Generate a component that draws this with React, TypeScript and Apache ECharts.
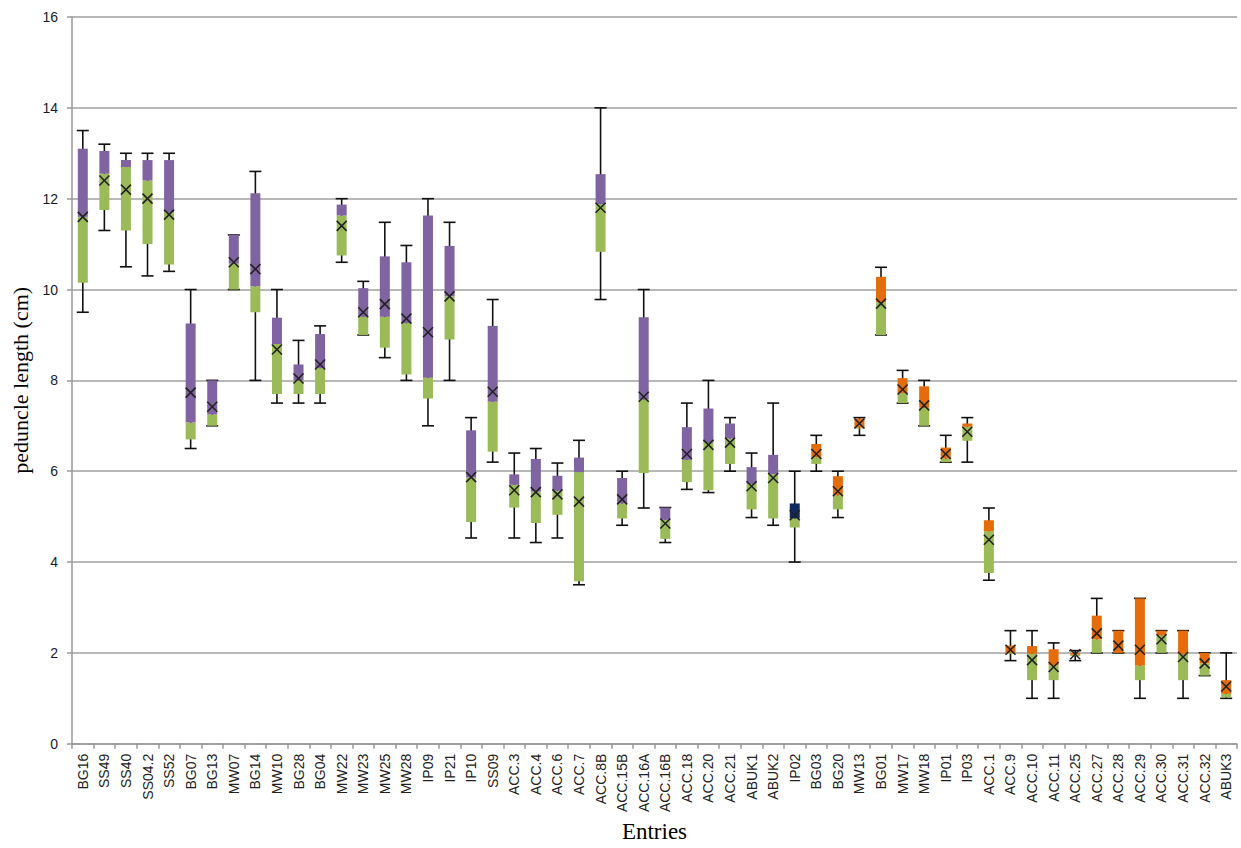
import React, { useEffect, useRef } from "react";
import * as echarts from "echarts";

const entries = ["BG16","SS49","SS40","SS04.2","SS52","BG07","BG13","MW07","BG14","MW10","BG28","BG04","MW22","MW23","MW25","MW28","IP09","IP21","IP10","SS09","ACC.3","ACC.4","ACC.6","ACC.7","ACC.8B","ACC.15B","ACC.16A","ACC.16B","ACC.18","ACC.20","ACC.21","ABUK1","ABUK2","IP02","BG03","BG20","MW13","BG01","MW17","MW18","IP01","IP03","ACC.1","ACC.9","ACC.10","ACC.11","ACC.25","ACC.27","ACC.28","ACC.29","ACC.30","ACC.31","ACC.32","ABUK3"];

const mins =    [9.5,11.3,10.5,10.3,10.4,6.5,7.0,10.0,8.0,7.5,7.5,7.5,10.6,9.0,8.5,8.0,7.0,8.0,4.53,6.2,4.53,4.43,4.53,3.5,9.78,4.81,5.19,4.43,5.6,5.53,6.0,4.98,4.81,4.0,6.0,4.98,6.79,9.0,7.5,7.0,6.2,6.2,3.6,1.83,1.0,1.0,1.83,2.0,2.0,1.0,2.0,1.0,1.5,1.0];
const q1s =     [10.15,11.75,11.3,11.0,10.55,6.7,7.0,10.0,9.5,7.7,7.7,7.7,10.75,9.0,8.72,8.13,7.6,8.9,4.88,6.43,5.2,4.86,5.04,3.58,10.83,4.96,5.96,4.51,5.76,5.58,6.16,5.16,4.96,4.76,6.16,5.16,6.94,9.0,7.5,7.0,6.2,6.67,3.76,1.98,1.4,1.4,1.93,2.0,2.0,1.4,2.0,1.4,1.5,1.02];
const medians = [11.6,12.55,12.7,12.4,11.7,7.07,7.25,10.57,10.07,8.8,8.0,8.27,11.63,9.4,9.4,9.26,8.06,9.85,5.86,7.53,5.7,5.55,5.57,5.98,11.88,5.29,7.58,4.93,6.25,6.63,6.72,5.72,5.94,4.96,6.31,5.47,6.96,9.72,7.72,7.4,6.28,6.98,4.68,2.0,1.98,1.73,1.96,2.3,2.0,1.72,2.39,1.97,1.77,1.1];
const q3s =     [13.1,13.05,12.85,12.85,12.85,9.25,8.0,11.2,12.12,9.38,8.35,9.02,11.87,10.03,10.73,10.6,11.63,10.96,6.9,9.2,5.93,6.27,5.9,6.3,12.54,5.85,9.39,5.2,6.97,7.38,7.05,6.09,6.36,5.29,6.6,5.89,7.16,10.28,8.05,7.87,6.52,7.05,4.92,2.16,2.15,2.08,2.0,2.82,2.49,3.2,2.49,2.49,2.0,1.4];
const maxs =    [13.5,13.2,13.0,13.0,13.0,10.0,8.0,11.2,12.6,10.0,8.88,9.2,12.0,10.18,11.48,10.97,12.0,11.48,7.18,9.78,6.4,6.5,6.18,6.68,14.0,6.0,10.0,5.2,7.5,8.0,7.18,6.4,7.5,6.0,6.79,6.0,7.18,10.49,8.22,8.0,6.79,7.18,5.19,2.49,2.49,2.22,2.05,3.2,2.49,3.2,2.49,2.49,2.0,2.0];
const means =   [11.6,12.4,12.2,12.0,11.65,7.73,7.42,10.6,10.45,8.68,8.04,8.35,11.4,9.5,9.68,9.36,9.06,9.85,5.87,7.75,5.58,5.54,5.49,5.33,11.8,5.38,7.64,4.85,6.38,6.58,6.63,5.67,5.85,5.03,6.38,5.56,7.05,9.69,7.8,7.45,6.38,6.87,4.49,2.07,1.84,1.69,1.97,2.43,2.16,2.07,2.3,1.91,1.77,1.26];
// group of each entry: "A" = first group, "B" = IP02, "C" = last group
const groups = entries.map((_, i) => (i < 33 ? "A" : i === 33 ? "B" : "C"));

const yTicks = { min: 0, max: 16, interval: 2 };

const upperColor: Record<string, string> = { A: "#8064A2", B: "#102A5E", C: "#E46C0A" };
const lowerColor = "#9BBB59";

export default function App() {
  const ref = useRef<HTMLDivElement>(null);
  useEffect(() => {
    const chart = echarts.init(ref.current!, null, { renderer: "svg" });
    const data = entries.map((_, i) => [i, mins[i], q1s[i], medians[i], q3s[i], maxs[i], means[i]]);
    const boxW = 10;
    const capW = 12;
    const xs = 5;
    const option: any = {
      animation: false,
      backgroundColor: "#ffffff",
      grid: { left: 72, right: 4, top: 17, bottom: 98, containLabel: false },
      xAxis: {
        type: "category",
        data: entries,
        name: "Entries",
        nameLocation: "middle",
        nameGap: 70,
        nameTextStyle: { fontFamily: "Liberation Serif, Times New Roman, serif", fontSize: 23, color: "#000", verticalAlign: "top" },
        axisLine: { show: true, lineStyle: { color: "#999999", width: 1.5 } },
        axisTick: { show: true, interval: 0, length: 5, lineStyle: { color: "#999999", width: 1.5 } },
        axisLabel: {
          interval: 0,
          rotate: 90,
          margin: 10,
          fontFamily: "Liberation Sans Narrow, Liberation Sans, Arial, sans-serif",
          fontSize: 14,
          color: "#222",
        },
        splitLine: { show: false },
      },
      yAxis: {
        type: "value",
        min: yTicks.min,
        max: yTicks.max,
        interval: yTicks.interval,
        name: "peduncle length (cm)",
        nameLocation: "middle",
        nameGap: 40,
        nameTextStyle: { fontFamily: "Liberation Serif, Times New Roman, serif", fontSize: 22, color: "#000" },
        axisLine: { show: true, lineStyle: { color: "#999999", width: 1.5 } },
        axisTick: { show: true, length: 5, lineStyle: { color: "#999999", width: 1.5 } },
        axisLabel: { margin: 14, fontFamily: "Liberation Sans, Arial, sans-serif", fontSize: 14, color: "#1a1a2a" },
        splitLine: { show: true, lineStyle: { color: "#a0a0a0", width: 1.5 } },
      },
      series: [
        {
          type: "custom",
          data,
          encode: { x: 0, y: [1, 2, 3, 4, 5, 6] },
          renderItem: (params: any, api: any) => {
            const i = api.value(0);
            const pMin = api.coord([i, api.value(1)]);
            const pQ1 = api.coord([i, api.value(2)]);
            const pMed = api.coord([i, api.value(3)]);
            const pQ3 = api.coord([i, api.value(4)]);
            const pMax = api.coord([i, api.value(5)]);
            const pMean = api.coord([i, api.value(6)]);
            const cx = pMin[0];
            const col = upperColor[groups[i]];
            const lineStyle = { stroke: "#111", lineWidth: 1.6 };
            return {
              type: "group",
              children: [
                { type: "line", shape: { x1: cx, y1: pMax[1], x2: cx, y2: pMin[1] }, style: lineStyle },
                { type: "line", shape: { x1: cx - capW / 2, y1: pMax[1], x2: cx + capW / 2, y2: pMax[1] }, style: lineStyle },
                { type: "line", shape: { x1: cx - capW / 2, y1: pMin[1], x2: cx + capW / 2, y2: pMin[1] }, style: lineStyle },
                { type: "rect", shape: { x: cx - boxW / 2, y: pMed[1], width: boxW, height: pQ1[1] - pMed[1] }, style: { fill: lowerColor } },
                { type: "rect", shape: { x: cx - boxW / 2, y: pQ3[1], width: boxW, height: pMed[1] - pQ3[1] }, style: { fill: col } },
                { type: "line", shape: { x1: cx - xs, y1: pMean[1] - xs, x2: cx + xs, y2: pMean[1] + xs }, style: { stroke: "#222", lineWidth: 1.6 } },
                { type: "line", shape: { x1: cx - xs, y1: pMean[1] + xs, x2: cx + xs, y2: pMean[1] - xs }, style: { stroke: "#222", lineWidth: 1.6 } },
              ],
            };
          },
        },
      ],
    };
    chart.setOption(option);
    return () => chart.dispose();
  }, []);
  return <div ref={ref} style={{ position: "fixed", left: 0, top: 0, width: 1241, height: 848 }} />;
}
